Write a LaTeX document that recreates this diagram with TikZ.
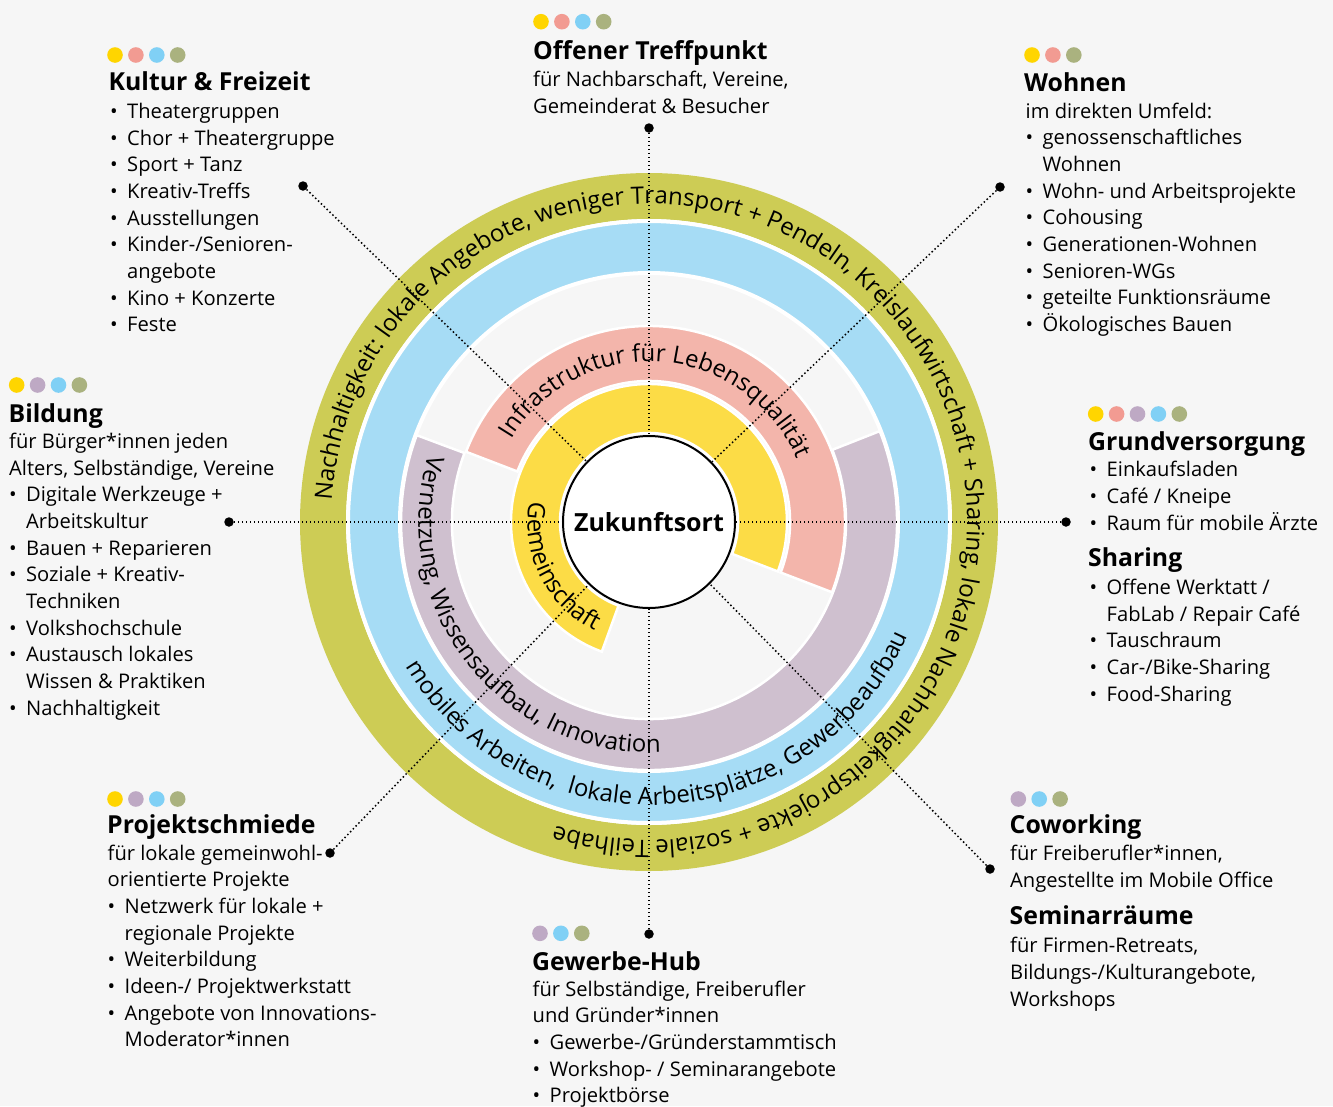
\documentclass[tikz,border=0pt]{standalone}
\usepackage{fontspec}
\setmainfont{Open Sans}
\usetikzlibrary{decorations.text}

\definecolor{paper}{HTML}{F6F6F6}
\definecolor{ringOliv}{HTML}{CDCC55}
\definecolor{ringBlau}{HTML}{A6DCF5}
\definecolor{ringLila}{HTML}{CFC0CF}
\definecolor{ringRose}{HTML}{F3B5AB}
\definecolor{ringGelb}{HTML}{FCDC46}
\definecolor{dGelb}{HTML}{FFD500}
\definecolor{dRose}{HTML}{F29B92}
\definecolor{dLila}{HTML}{BEA9C4}
\definecolor{dBlau}{HTML}{80D0F5}
\definecolor{dOliv}{HTML}{AAB27F}

\newcommand\ringfont{\fontsize{24}{28}\selectfont}
\newcommand\li{\makebox[17pt][l]{\textbullet}}
\newcommand\lc{\hspace*{17pt}}
\newcommand\dotrow[3]{\foreach \dc [count=\k] in {#3} {\fill[\dc] ({#1+20.9*(\k-1)},{-#2}) circle (7.8);}}
\newcommand\ringpart[5]{\path[part, fill=#1] (#4:#2) arc[start angle=#4, end angle=#5, radius=#2] -- (#5:#3) arc[start angle=#5, end angle=#4, radius=#3] -- cycle;}

\tikzset{%
      hub/.style = {circle, draw=black, line width=2pt, fill=white, minimum size=172pt,
                    inner sep=0pt, font=\bfseries\fontsize{25}{30}\selectfont},
   enddot/.style = {circle, fill=black, minimum size=9.5pt, inner sep=0pt},
   leader/.style = {line width=1.5pt, dash pattern=on 1.5pt off 2.5pt},
     head/.style = {anchor=base west, inner sep=0pt, font=\bfseries\fontsize{24.8}{30}\selectfont},
     body/.style = {anchor=base west, inner sep=0pt, font=\fontsize{20.15}{26.7}\selectfont},
     part/.style = {draw=white, line width=2.5pt},
 ringtext/.style = {decorate, decoration={text along path, text align=center, text={#1}}},
}

\begin{document}
\begin{tikzpicture}[x=1pt, y=1pt]
  \useasboundingbox (0,0) rectangle (1333,-1106);
  \fill[paper] (0,0) rectangle (1333,-1106);

  \begin{scope}[shift={(649,-522)}]
    \fill[ringOliv, even odd rule] (0,0) circle (349) (0,0) circle (303);
    \path[fill=ringBlau, draw=white, line width=4pt, even odd rule] (0,0) circle (301) (0,0) circle (249);
    \ringpart{ringLila}{197}{248}{159.5}{381.5}
    \ringpart{ringRose}{141}{196}{-21}{159}
    \ringpart{ringGelb}{89}{138}{-21}{250}

    \path[ringtext={|\ringfont|Nachhaltigkeit: lokale Angebote, weniger Transport + Pendeln, Kreislaufwirtschaft + Sharing, lokale Nachhaltigkeitsprojekte + soziale Teilhabe}]
      (209.5:318) arc[start angle=209.5, end angle=-140.5, radius=318];
    \path[ringtext={|\ringfont|Infrastruktur für Lebensqualität}]
      (166:160.5) arc[start angle=166, end angle=6, radius=160.5];
    \path[ringtext={|\ringfont|Gemeinschaft}]
      (127:121.5) arc[start angle=127, end angle=287, radius=121.5];
    \path[ringtext={|\ringfont|Vernetzung, Wissensaufbau, Innovation}]
      (123:230.5) arc[start angle=123, end angle=313, radius=230.5];
    \path[ringtext={|\ringfont|mobiles Arbeiten, {\ }lokale Arbeitsplätze, Gewerbeaufbau}]
      (168.5:283) arc[start angle=168.5, end angle=378.5, radius=283];
  \end{scope}

  \node[hub] (zukunft) at (649,-522) {Zukunftsort};

  \node[enddot] (pTreff)   at (649,-128) {};
  \node[enddot] (pKultur)  at (303,-186) {};
  \node[enddot] (pWohnen)  at (1000,-187) {};
  \node[enddot] (pBildung) at (229,-522) {};
  \node[enddot] (pGrund)   at (1066,-522) {};
  \node[enddot] (pProjekt) at (330,-853) {};
  \node[enddot] (pGewerbe) at (649,-934) {};
  \node[enddot] (pCowork)  at (990,-869) {};

  \draw[leader] (pTreff)   -- (zukunft);
  \draw[leader] (pKultur)  -- (zukunft);
  \draw[leader] (pWohnen)  -- (zukunft);
  \draw[leader] (pBildung) -- (zukunft);
  \draw[leader] (pGrund)   -- (zukunft);
  \draw[leader] (pProjekt) -- (zukunft);
  \draw[leader] (pGewerbe) -- (zukunft);
  \draw[leader] (pCowork)  -- (zukunft);

  % Offener Treffpunkt
  \dotrow{541}{21.7}{dGelb,dRose,dBlau,dOliv}
  \node[head] (hTreff) at (533,-59) {Offener Treffpunkt};
  \node[body] (lTreff) at (533,-86.5) {\begin{tabular}[t]{@{}l@{}}
    für Nachbarschaft, Vereine,\\ Gemeinderat \& Besucher\end{tabular}};

  % Kultur & Freizeit
  \dotrow{115}{55}{dGelb,dRose,dBlau,dOliv}
  \node[head] (hKultur) at (108.5,-90.7) {Kultur \& Freizeit};
  \node[body] (lKultur) at (110,-118.3) {\begin{tabular}[t]{@{}l@{}}
    \li Theatergruppen\\ \li Chor + Theatergruppe\\ \li Sport + Tanz\\ \li Kreativ-Treffs\\
    \li Ausstellungen\\ \li Kinder-/Senioren-\\ \lc angebote\\ \li Kino + Konzerte\\ \li Feste\end{tabular}};

  % Wohnen
  \dotrow{1032}{55}{dGelb,dRose,dOliv}
  \node[head] (hWohnen) at (1024,-91.7) {Wohnen};
  \node[body] (lWohnen) at (1025.5,-118) {\begin{tabular}[t]{@{}l@{}}
    im direkten Umfeld:\\ \li genossenschaftliches\\ \lc Wohnen\\ \li Wohn- und Arbeitsprojekte\\
    \li Cohousing\\ \li Generationen-Wohnen\\ \li Senioren-WGs\\ \li geteilte Funktionsräume\\
    \li Ökologisches Bauen\end{tabular}};

  % Bildung
  \dotrow{16.7}{385}{dGelb,dLila,dBlau,dOliv}
  \node[head] (hBildung) at (8.5,-422.7) {Bildung};
  \node[body] (lBildung) at (9,-448.3) {\begin{tabular}[t]{@{}l@{}}
    für Bürger*innen jeden\\ Alters, Selbständige, Vereine\\ \li Digitale Werkzeuge +\\ \lc Arbeitskultur\\
    \li Bauen + Reparieren\\ \li Soziale + Kreativ-\\ \lc Techniken\\ \li Volkshochschule\\
    \li Austausch lokales\\ \lc Wissen \& Praktiken\\ \li Nachhaltigkeit\end{tabular}};

  % Grundversorgung / Sharing
  \dotrow{1095.7}{414}{dGelb,dRose,dLila,dBlau,dOliv}
  \node[head] (hGrund) at (1088,-450) {Grundversorgung};
  \node[body] (lGrund) at (1089.5,-476.7) {\begin{tabular}[t]{@{}l@{}}
    \li Einkaufsladen\\ \li Café / Kneipe\\ \li Raum für mobile Ärzte\end{tabular}};
  \node[head] (hSharing) at (1088,-566.7) {Sharing};
  \node[body] (lSharing) at (1089.5,-594.3) {\begin{tabular}[t]{@{}l@{}}
    \li Offene Werktatt /\\ \lc FabLab / Repair Café\\ \li Tauschraum\\ \li Car-/Bike-Sharing\\
    \li Food-Sharing\end{tabular}};

  % Projektschmiede
  \dotrow{115}{799}{dGelb,dLila,dBlau,dOliv}
  \node[head] (hProjekt) at (107,-833.3) {Projektschmiede};
  \node[body] (lProjekt) at (107.5,-860) {\begin{tabular}[t]{@{}l@{}}
    für lokale gemeinwohl-\\ orientierte Projekte\\ \li Netzwerk für lokale +\\ \lc regionale Projekte\\
    \li Weiterbildung\\ \li Ideen-/ Projektwerkstatt\\ \li Angebote von Innovations-\\
    \lc Moderator*innen\end{tabular}};

  % Gewerbe-Hub
  \dotrow{540}{933.3}{dLila,dBlau,dOliv}
  \node[head] (hGewerbe) at (532,-970) {Gewerbe-Hub};
  \node[body] (lGewerbe) at (532.5,-996) {\begin{tabular}[t]{@{}l@{}}
    für Selbständige, Freiberufler\\ und Gründer*innen\\ \li Gewerbe-/Gründerstammtisch\\
    \li Workshop- / Seminarangebote\\ \li Projektbörse\end{tabular}};

  % Coworking / Seminarraeume
  \dotrow{1018.3}{799}{dLila,dBlau,dOliv}
  \node[head] (hCowork) at (1009.5,-833.3) {Coworking};
  \node[body] (lCowork) at (1010,-860.7) {\begin{tabular}[t]{@{}l@{}}
    für Freiberufler*innen,\\ Angestellte im Mobile Office\end{tabular}};
  \node[head] (hSeminar) at (1009.5,-924) {Seminarräume};
  \node[body] (lSeminar) at (1010,-952.7) {\begin{tabular}[t]{@{}l@{}}
    für Firmen-Retreats,\\ Bildungs-/Kulturangebote,\\ Workshops\end{tabular}};
\end{tikzpicture}
\end{document}
